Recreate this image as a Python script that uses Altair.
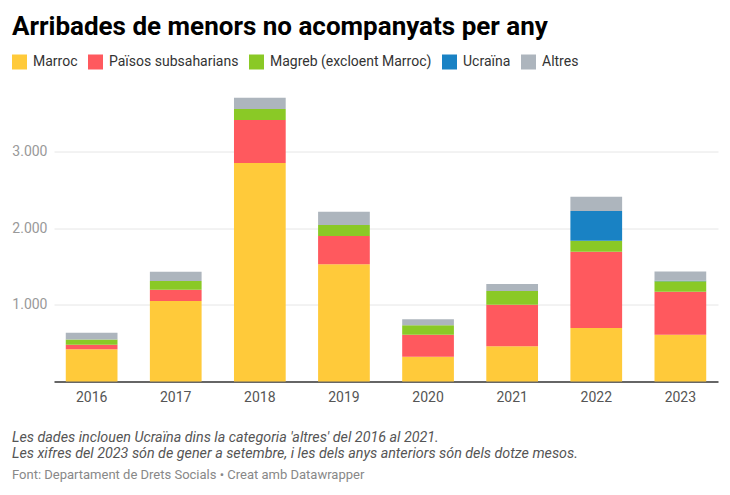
import altair as alt
import pandas as pd

years = ["2016", "2017", "2018", "2019", "2020", "2021", "2022", "2023"]
categories = ["Marroc", "Països subsaharians", "Magreb (excloent Marroc)", "Ucraïna", "Altres"]
colors = ["#ffca3a", "#ff595e", "#8ac926", "#1982c4", "#adb5bd"]

marroc = [420, 1050, 2852, 1530, 324, 460, 698, 611]
subsaharians = [60, 148, 562, 369, 287, 543, 997, 561]
magreb = [70, 114, 143, 144, 123, 178, 143, 136]
ucraina = [0, 0, 0, 0, 0, 0, 388, 8]
altres = [87, 121, 148, 174, 78, 92, 187, 122]

y_ticks = [1000, 2000, 3000]

title_text = ["Arribades de menors no acompanyats per any"]
notes_text = [
    "Les dades inclouen Ucraïna dins la categoria 'altres' del 2016 al 2021.",
    "Les xifres del 2023 són de gener a setembre, i les dels anys anteriors són dels dotze mesos.",
]
source_text = ["Font: Departament de Drets Socials • Creat amb Datawrapper"]

series = [marroc, subsaharians, magreb, ucraina, altres]
rows = []
for ci, (cat, vals) in enumerate(zip(categories, series)):
    for y, v in zip(years, vals):
        rows.append({"any": y, "categoria": cat, "valor": v, "ord": ci})
df = pd.DataFrame(rows)

bars = alt.Chart(df).mark_bar().encode(
    x=alt.X("any:N", sort=years,
            scale=alt.Scale(paddingInner=0.385, paddingOuter=0.14),
            axis=alt.Axis(labelAngle=0, domain=True, domainColor="#333333", domainWidth=1.5,
                          ticks=False, labelPadding=9, labelColor="#555555", labelFontSize=14,
                          labelFont="Roboto", grid=False, title=None)),
    y=alt.Y("valor:Q", stack="zero",
            scale=alt.Scale(domain=[0, 3800], nice=False),
            axis=alt.Axis(values=y_ticks, grid=True, gridColor="#e6e6e6", gridWidth=1,
                          domain=False, ticks=False, labelPadding=7, labelColor="#999999",
                          labelFontSize=14, labelFont="Roboto", title=None,
                          labelExpr="replace(format(datum.value, ','), ',', '.')")),
    color=alt.Color("categoria:N",
                    scale=alt.Scale(domain=categories, range=colors),
                    legend=alt.Legend(orient="none", legendX=-42, legendY=-36,
                                      direction="horizontal", title=None,
                                      symbolType="square", symbolSize=225,
                                      symbolStrokeWidth=0, symbolOpacity=1,
                                      labelFontSize=14, labelFont="Roboto",
                                      labelColor="#333333", labelOffset=6,
                                      labelLimit=400,
                                      columnPadding=10, padding=0)),
    order=alt.Order("ord:Q"),
)

title = alt.Chart(pd.DataFrame({"t": title_text})).mark_text(
    align="left", baseline="alphabetic", font="Roboto", fontWeight="bold",
    fontSize=26, color="#000000"
).encode(x=alt.value(-42), y=alt.value(-55.5), text="t:N")

note1 = alt.Chart(pd.DataFrame({"t": [notes_text[0]]})).mark_text(
    align="left", baseline="alphabetic", font="Roboto", fontStyle="italic",
    fontSize=14.3, color="#555555"
).encode(x=alt.value(-42), y=alt.value(351.5), text="t:N")
note2 = alt.Chart(pd.DataFrame({"t": [notes_text[1]]})).mark_text(
    align="left", baseline="alphabetic", font="Roboto", fontStyle="italic",
    fontSize=14.3, color="#555555"
).encode(x=alt.value(-42), y=alt.value(367), text="t:N")
source = alt.Chart(pd.DataFrame({"t": source_text})).mark_text(
    align="left", baseline="alphabetic", font="Roboto",
    fontSize=13, color="#888888"
).encode(x=alt.value(-42), y=alt.value(388.5), text="t:N")

chart = alt.layer(bars, title, note1, note2, source).properties(
    width=664, height=291,
    autosize=alt.AutoSizeParams(type="none"),
    padding={"left": 46, "top": 82.5, "right": 4, "bottom": 102},
).configure(font="Roboto", background="#ffffff").configure_view(stroke="transparent", strokeWidth=0)

chart.save("out.html", embed_options={"renderer": "svg", "actions": False})
